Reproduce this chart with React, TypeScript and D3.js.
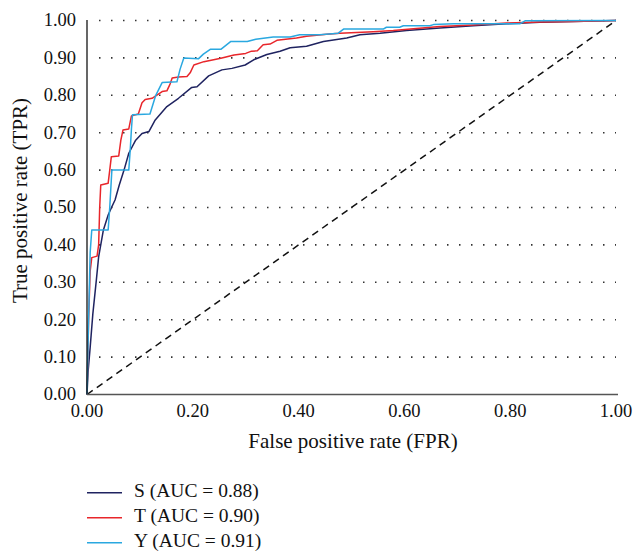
import React from "react";
import * as d3 from "d3";

const xTicks = [0, 0.2, 0.4, 0.6, 0.8, 1.0];
const yTicks = [0, 0.1, 0.2, 0.3, 0.4, 0.5, 0.6, 0.7, 0.8, 0.9, 1.0];

const sFpr = [0, 0.002, 0.006, 0.011, 0.0176, 0.022, 0.031, 0.04, 0.047, 0.053, 0.061, 0.07, 0.079, 0.092, 0.104, 0.117, 0.129, 0.151, 0.173, 0.198, 0.208, 0.23, 0.255, 0.274, 0.299, 0.315, 0.34, 0.365, 0.384, 0.415, 0.447, 0.491, 0.516, 0.554, 0.604, 0.667, 0.73, 0.793, 0.856, 0.919, 1];
const sTpr = [0, 0.06, 0.126, 0.215, 0.305, 0.368, 0.44, 0.48, 0.502, 0.52, 0.56, 0.6, 0.645, 0.68, 0.698, 0.703, 0.734, 0.77, 0.792, 0.821, 0.823, 0.852, 0.868, 0.872, 0.881, 0.895, 0.909, 0.918, 0.927, 0.931, 0.944, 0.953, 0.962, 0.966, 0.973, 0.98, 0.986, 0.991, 0.995, 0.997, 1];

const tFpr = [0, 0.003, 0.006, 0.009, 0.019, 0.022, 0.024, 0.026, 0.04, 0.043, 0.046, 0.06, 0.064, 0.068, 0.079, 0.084, 0.097, 0.104, 0.11, 0.123, 0.142, 0.151, 0.157, 0.161, 0.173, 0.189, 0.195, 0.202, 0.221, 0.253, 0.278, 0.3, 0.311, 0.322, 0.333, 0.346, 0.359, 0.396, 0.415, 0.453, 0.478, 0.541, 0.579, 0.617, 0.667, 0.73, 0.793, 0.856, 0.919, 1];
const tTpr = [0, 0.2, 0.33, 0.366, 0.37, 0.4, 0.5, 0.56, 0.565, 0.6, 0.636, 0.638, 0.68, 0.707, 0.71, 0.745, 0.75, 0.78, 0.789, 0.792, 0.81, 0.812, 0.83, 0.846, 0.849, 0.85, 0.86, 0.881, 0.89, 0.899, 0.908, 0.912, 0.918, 0.919, 0.935, 0.937, 0.947, 0.953, 0.958, 0.963, 0.966, 0.97, 0.973, 0.978, 0.984, 0.988, 0.993, 0.996, 0.997, 1];

const yFpr = [0, 0.003, 0.006, 0.009, 0.04, 0.043, 0.047, 0.079, 0.082, 0.084, 0.086, 0.119, 0.13, 0.142, 0.17, 0.176, 0.183, 0.211, 0.22, 0.233, 0.253, 0.272, 0.303, 0.319, 0.352, 0.384, 0.402, 0.44, 0.475, 0.485, 0.56, 0.566, 0.591, 0.598, 0.648, 0.655, 0.693, 0.818, 0.828, 1];
const yTpr = [0, 0.2, 0.38, 0.44, 0.44, 0.5, 0.6, 0.6, 0.66, 0.71, 0.748, 0.75, 0.8, 0.834, 0.836, 0.87, 0.9, 0.898, 0.91, 0.923, 0.923, 0.944, 0.944, 0.95, 0.956, 0.956, 0.962, 0.962, 0.966, 0.977, 0.977, 0.982, 0.982, 0.986, 0.986, 0.989, 0.991, 0.991, 0.999, 1];

const seriesNames = ["S (AUC = 0.88)", "T (AUC = 0.90)", "Y (AUC = 0.91)"];
const seriesColors = ["#1f2360", "#e8262b", "#2aa8e0"];

const FONT = '"Liberation Serif", "DejaVu Serif", serif';
const txt = { fontFamily: FONT } as React.CSSProperties;

export default function App() {
  const x = d3.scaleLinear().domain([0, 1]).range([87, 616]);
  const y = d3.scaleLinear().domain([0, 1]).range([394.5, 20.5]);
  const line = d3
    .line<[number, number]>()
    .x((d) => x(d[0]))
    .y((d) => y(d[1]));

  const series = [
    d3.zip(sFpr, sTpr) as [number, number][],
    d3.zip(tFpr, tTpr) as [number, number][],
    d3.zip(yFpr, yTpr) as [number, number][],
  ];

  return (
    <svg
      width={634}
      height={551}
      style={{ position: "absolute", left: 0, top: 0, background: "#fff" }}
    >
      {yTicks.slice(1).map((t) => (
        <line
          key={"g" + t}
          x1={99}
          x2={616}
          y1={y(t)}
          y2={y(t)}
          stroke="#333"
          strokeWidth={1.6}
          strokeDasharray="1.5 10.5"
        />
      ))}
      <path
        d={line([[0, 0], [1, 1]]) || ""}
        fill="none"
        stroke="#111"
        strokeWidth={1.5}
        strokeDasharray="7 5"
      />
      {series.map((s, i) => (
        <path
          key={"s" + i}
          d={line(s) || ""}
          fill="none"
          stroke={seriesColors[i]}
          strokeWidth={1.5}
          strokeLinejoin="round"
        />
      ))}
      <line x1={87} x2={87} y1={20} y2={394.5} stroke="#000" strokeWidth={1.2} />
      <line x1={87} x2={618} y1={394.5} y2={394.5} stroke="#555" strokeWidth={1.6} />
      {yTicks.map((t) => (
        <text
          key={"yt" + t}
          x={76}
          y={y(t)}
          dy="0.32em"
          textAnchor="end"
          fontSize={18.5}
          fill="#111"
          style={txt}
        >
          {t.toFixed(2)}
        </text>
      ))}
      {xTicks.map((t) => (
        <text
          key={"xt" + t}
          x={x(t)}
          y={417}
          textAnchor="middle"
          fontSize={18.5}
          fill="#111"
          style={txt}
        >
          {t.toFixed(2)}
        </text>
      ))}
      <text x={353} y={448} textAnchor="middle" fontSize={21} fill="#111" style={txt}>
        False positive rate (FPR)
      </text>
      <text
        transform="translate(27,200.5) rotate(-90)"
        textAnchor="middle"
        fontSize={21}
        fill="#111"
        style={txt}
      >
        True positive rate (TPR)
      </text>
      {seriesNames.map((n, i) => (
        <g key={"l" + i} transform={`translate(0, ${492.7 + i * 25})`}>
          <line x1={87} x2={122} y1={0} y2={0} stroke={seriesColors[i]} strokeWidth={1.5} />
          <text x={134} y={4} fontSize={19.5} fill="#111" style={txt}>
            {n}
          </text>
        </g>
      ))}
    </svg>
  );
}
